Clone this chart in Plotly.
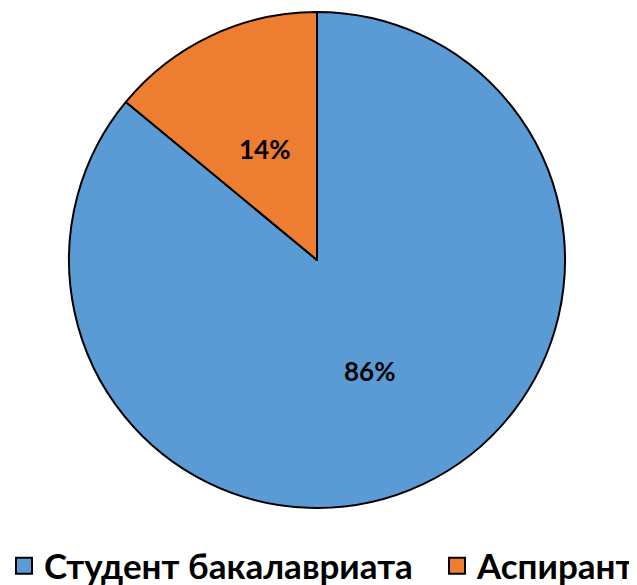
import math
import plotly.graph_objects as go

labels = ["Студент бакалавриата", "Аспирант"]
values = [86, 14]
colors = ["#5B9BD5", "#ED7D31"]

W, H = 637, 585
OFF = 8  # page body margin of the browser
cx, cy, R = 317 - OFF, 260 - OFF, 248

fig = go.Figure()
fig.add_trace(go.Pie(
    labels=labels,
    values=values,
    sort=False,
    direction="clockwise",
    rotation=0,
    marker=dict(colors=colors, line=dict(color="black", width=2)),
    textinfo="none",
    showlegend=False,
    hoverinfo="label+percent",
    domain=dict(x=[(cx - R) / W, (cx + R) / W], y=[(H - cy - R) / H, (H - cy + R) / H]),
))

# percentage labels placed at the mid-angle of each slice
total = sum(values)
start = 0.0
for lab, v in zip(labels, values):
    frac = v / total
    mid = (start + frac / 2) * 2 * math.pi
    start += frac
    rr = 0.495 * R
    px = cx + rr * math.sin(mid)
    py = cy - rr * math.cos(mid)
    fig.add_annotation(
        x=px / W, y=1 - py / H, xref="paper", yref="paper",
        text=f"{round(frac * 100)}%", showarrow=False,
        font=dict(family="Lato", size=26, color="black", weight="bold"),
        xanchor="center", yanchor="middle",
    )

# legend entries, one legend each so they can be placed like the reference
legend_names = ["legend", "legend2"]
for lab, c, lg in zip(labels, colors, legend_names):
    fig.add_trace(go.Scatter(
        x=[None], y=[None], mode="markers", name=lab,
        marker=dict(symbol="square", size=16, color=c, line=dict(color="black", width=2)),
        showlegend=True, legend=lg,
    ))

legend_style = dict(
    orientation="h",
    xanchor="left",
    y=1 - (566 - OFF) / H, yanchor="middle",
    font=dict(family="Lato", size=35, color="black", weight="bold"),
    itemsizing="trace",
    bgcolor="rgba(0,0,0,0)",
)

fig.update_xaxes(visible=False)
fig.update_yaxes(visible=False)
fig.update_layout(
    width=W, height=H,
    margin=dict(l=0, r=0, t=0, b=0, autoexpand=False),
    paper_bgcolor="white",
    plot_bgcolor="white",
    showlegend=True,
    legend=dict(x=(4 - OFF) / W, **legend_style),
    legend2=dict(x=(437 - OFF) / W, **legend_style),
)

fig.write_html("out.html")
